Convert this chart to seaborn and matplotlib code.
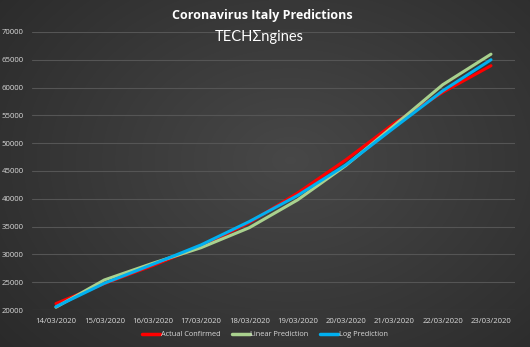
import numpy as np
import pandas as pd
import seaborn as sns
import matplotlib.pyplot as plt
from matplotlib.lines import Line2D

dates = ["14/03/2020", "15/03/2020", "16/03/2020", "17/03/2020", "18/03/2020",
         "19/03/2020", "20/03/2020", "21/03/2020", "22/03/2020", "23/03/2020"]
actual = [21157, 24747, 27980, 31506, 35713, 41035, 47021, 53578, 59138, 63927]
linear = [20500, 25400, 28400, 31200, 34800, 39800, 46000, 53200, 60500, 66000]
logpred = [20600, 24800, 28200, 31700, 35900, 40600, 46100, 52800, 59400, 65000]

series = ["Actual Confirmed", "Linear Prediction", "Log Prediction"]
colors = ["#ff0000", "#a9d18e", "#00b0f0"]

df = pd.DataFrame({"Date": dates * 3,
                   "x": list(range(len(dates))) * 3,
                   "Cases": actual + linear + logpred,
                   "Series": [s for s in series for _ in dates]})

sns.set_style("dark")
plt.rcParams["font.family"] = ["Open Sans", "DejaVu Sans"]

fig = plt.figure(figsize=(5.3, 3.47), dpi=100)

# radial gray background like the excel chart
yy, xx = np.mgrid[0:347, 0:530]
r = np.sqrt(((xx - 290) / 400.0) ** 2 + ((yy - 160) / 300.0) ** 2)
bg = np.clip(0.28 - 0.12 * r, 0.16, 0.28)
fig.figimage(np.dstack([bg, bg, bg]), xo=0, yo=0, zorder=-10)

ax = fig.add_axes([0.060, 0.1066, 0.912, 0.8014])
ax.set_facecolor("none")

sns.lineplot(data=df, x="x", y="Cases", hue="Series", palette=colors,
             linewidth=2.2, ax=ax, legend=False)

ax.set_xlim(-0.5, len(dates) - 0.5)
ax.set_ylim(20000, 70000)
ax.set_yticks(range(20000, 70001, 5000))
ax.set_xticks(range(len(dates)))
ax.set_xticklabels(dates)
ax.tick_params(colors="#d9d9d9", labelsize=5.6, length=0)
ax.tick_params(axis="x", pad=6)
ax.tick_params(axis="y", pad=6)
ax.grid(axis="y", color="#555555", linewidth=0.8)
ax.grid(axis="x", visible=False)
for s in ax.spines.values():
    s.set_visible(False)
ax.set_xlabel("")
ax.set_ylabel("")

handles = [Line2D([0], [0], color=c, lw=2.5) for c in colors]
fig.legend(handles, series, loc="center", bbox_to_anchor=(0.5, 0.035), ncol=3,
           frameon=False, fontsize=5.3, labelcolor="#d9d9d9", handlelength=2.4,
           handletextpad=0.1, columnspacing=1.6)

fig.text(0.495, 0.955, "Coronavirus Italy Predictions", ha="center", va="center",
         color="white", fontsize=9, fontweight="bold")
fig.text(0.49, 0.893, "TECHΣngines", ha="center", va="center",
         color="white", fontsize=10.5, family=["Lato", "DejaVu Sans"])

fig.savefig("out.png", dpi=100)
